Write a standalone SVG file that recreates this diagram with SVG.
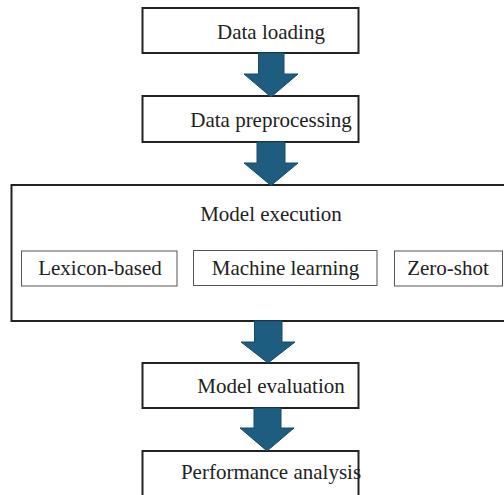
<svg xmlns="http://www.w3.org/2000/svg" width="504" height="495" viewBox="0 0 504 495">
<style>
.box{fill:#fff;stroke:#222;stroke-width:2}
.sub{fill:#fff;stroke:#555;stroke-width:1}
.t{font-size:21px;fill:#222;text-anchor:middle}
.arr{fill:#1d5e80;stroke:#174b68;stroke-width:1}
</style>
<rect width="504" height="495" fill="#fff"/>
<g font-family="'Liberation Serif', 'Times New Roman', 'DejaVu Serif', serif">
<g id="n1"><rect class="box" x="142.5" y="8" width="216" height="45"/><text class="t" x="271" y="38.5">Data loading</text></g>
<g id="n2"><rect class="box" x="142.5" y="96" width="216" height="46"/><text class="t" x="271" y="127">Data preprocessing</text></g>
<g id="n3"><rect class="box" x="11.5" y="185" width="500" height="136"/><text class="t" x="271" y="220.5">Model execution</text>
<g id="n3a"><rect class="sub" x="21.5" y="251" width="155.5" height="35"/><text class="t" x="100" y="275">Lexicon-based</text></g>
<g id="n3b"><rect class="sub" x="193.5" y="250.5" width="183.5" height="35"/><text class="t" x="285.5" y="275">Machine learning</text></g>
<g id="n3c"><rect class="sub" x="394.5" y="251" width="108" height="35"/><text class="t" x="448" y="275">Zero-shot</text></g>
</g>
<g id="n4"><rect class="box" x="142.5" y="363" width="216" height="45"/><text class="t" x="271" y="392.5">Model evaluation</text></g>
<g id="n5"><rect class="box" x="142.5" y="451" width="216" height="50"/><text class="t" x="271" y="479">Performance analysis</text></g>
</g>
<g id="connectors">
<polygon class="arr" points="258.5,53 284,53 284,74 298,74 271,97 244,74 258.5,74"/>
<polygon class="arr" points="257,142 285,142 285,163 298,163 271,185.5 244,163 257,163"/>
<polygon class="arr" points="254.5,321 282,321 282,342 295,342 268,363 241,342 254.5,342"/>
<polygon class="arr" points="254,408 281,408 281,428 294,428 267,451 240,428 254,428"/>
</g>
</svg>
